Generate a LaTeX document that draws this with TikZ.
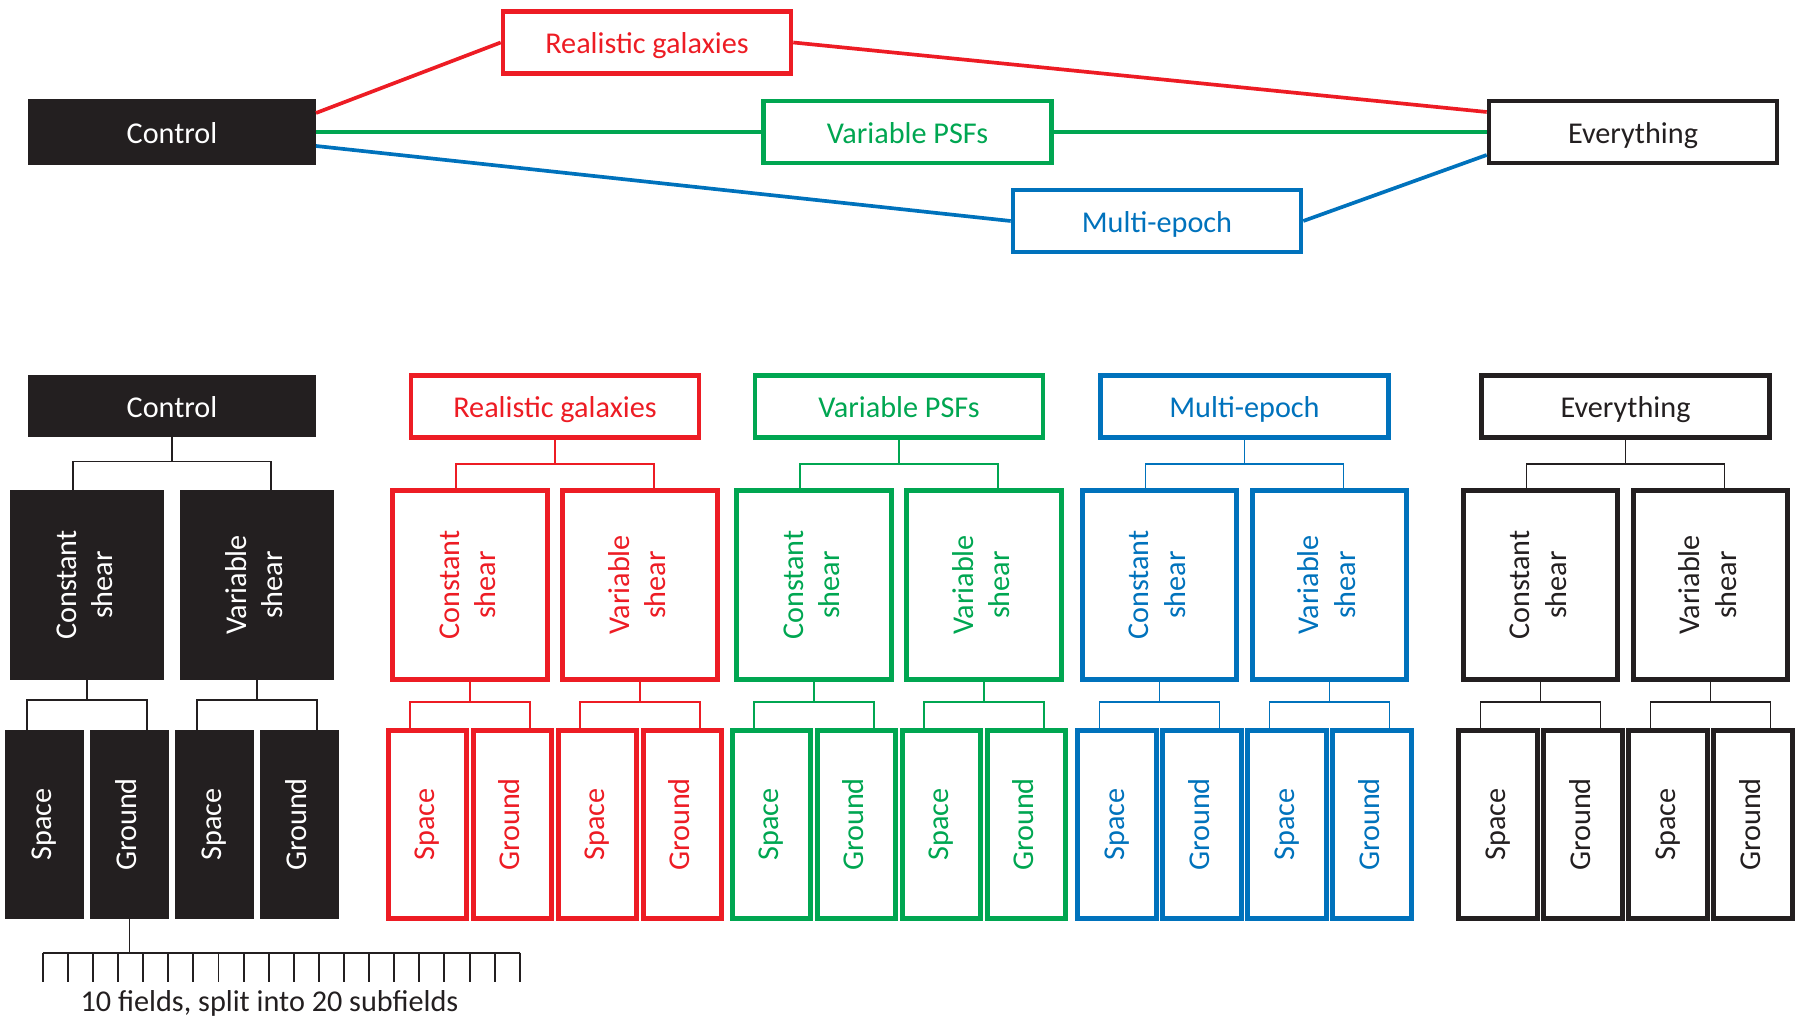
\documentclass[tikz,border=0pt]{standalone}
\usepackage{fontspec}
\setmainfont{Carlito}
\usetikzlibrary{arrows.meta}

\definecolor{inkblack}{HTML}{231F20}
\definecolor{galred}{HTML}{ED1C24}
\definecolor{psfgreen}{HTML}{00A651}
\definecolor{epochblue}{HTML}{0072BC}

% upright two-line text for the tall boxes
\newcommand{\vtext}[1]{\rotatebox{90}{\begin{tabular}{@{}c@{}}#1\end{tabular}}}

\tikzset{
	topbox/.style={draw, line width=1.3pt, inner sep=0pt, minimum width=2.88cm, minimum height=0.62cm, text height=0.64em, text depth=0pt},
	shearbox/.style={draw, line width=1.3pt, inner sep=0pt, minimum width=1.545cm, minimum height=1.895cm},
	leafbox/.style={draw, line width=1.3pt, inner sep=0pt, minimum width=0.785cm, minimum height=1.885cm},
	ctrl/.style={draw=none, line width=0pt, fill=inkblack, text=white},
	gal/.style={draw=galred, text=galred},
	psf/.style={draw=psfgreen, text=psfgreen},
	epo/.style={draw=epochblue, text=epochblue},
	evr/.style={draw=inkblack, text=inkblack},
	link/.style={line width=1.05pt},
	tie/.style={line width=0.45pt},
	comb/.style={line width=0.55pt, inkblack}
}

\begin{document}
\begin{tikzpicture}[>=Latex, font=\fontsize{8.6}{10.4}\selectfont]
	\useasboundingbox (0,0) rectangle (18,-10.17);
	
	%========================
	% Top: branches from Control to Everything
	%========================
	\node[topbox, ctrl, minimum height=0.66cm] (ctl) at (1.72,-1.32) {Control};
	\node[topbox, gal] (gal) at (6.47,-0.425) {Realistic galaxies};
	\node[topbox, psf] (psf) at (9.075,-1.32) {Variable PSFs};
	\node[topbox, epo] (epo) at (11.57,-2.21) {Multi-epoch};
	\node[topbox, evr] (evr) at (16.33,-1.32) {Everything};
	
	% one line per branch
	\draw[link, galred] ([yshift=1.9mm]ctl.east) -- (gal.west);
	\draw[link, galred] (gal.east) -- ([yshift=2mm]evr.west);
	\draw[link, psfgreen] (ctl.east) -- (psf.west);
	\draw[link, psfgreen] (psf.east) -- (evr.west);
	\draw[link, epochblue] ([yshift=-1.4mm]ctl.east) -- (epo.west);
	\draw[link, epochblue] (epo.east) -- ([yshift=-2.3mm]evr.west);
	
	%========================
	% Bottom: shear type, then space / ground, for each branch
	%========================
	\foreach \nm/\x/\sty/\col/\txt in {c/1.72/ctrl/inkblack/Control, r/5.55/gal/galred/Realistic galaxies, p/8.99/psf/psfgreen/Variable PSFs, m/12.445/epo/epochblue/Multi-epoch, e/16.255/evr/inkblack/Everything}{
		\begin{scope}[shift={(\x,0)}]
			\node[topbox, \sty] (\nm) at (0,-4.065) {\txt};
			\node[shearbox, \sty] (\nm-cs) at (-0.85,-5.85) {\vtext{Constant\\shear}};
			\node[shearbox, \sty] (\nm-vs) at (0.85,-5.85) {\vtext{Variable\\shear}};
			
			\draw[tie, \col] (\nm.south) -- ++(0,-0.24) coordinate (\nm-j);
			\draw[tie, \col] (\nm-j) -| ([xshift=-1.4mm]\nm-cs.north);
			\draw[tie, \col] (\nm-j) -| ([xshift=1.4mm]\nm-vs.north);
			
			\foreach \s in {cs,vs}{
				\node[leafbox, \sty] (\nm-\s-sp) at ([xshift=-4.25mm,yshift=-23.95mm]\nm-\s.center) {\vtext{Space}};
				\node[leafbox, \sty] (\nm-\s-gr) at ([xshift=4.25mm,yshift=-23.95mm]\nm-\s.center) {\vtext{Ground}};
				
				\draw[tie, \col] (\nm-\s.south) -- ++(0,-0.2) coordinate (\nm-\s-j);
				\draw[tie, \col] (\nm-\s-j) -| ([xshift=-1.75mm]\nm-\s-sp.north);
				\draw[tie, \col] (\nm-\s-j) -| ([xshift=1.75mm]\nm-\s-gr.north);
			}
		\end{scope}
	}
	
	%========================
	% Fields under one ground branch
	%========================
	\draw[comb] (c-cs-gr.south) -- (c-cs-gr.south |- 0,-9.527);
	\draw[comb] (0.427,-9.527) -- (5.20,-9.527);
	\foreach \i in {0,...,19}
		\draw[comb] ({0.427+0.2511*\i},-9.527) -- ++(0,-0.29);
	\node[anchor=base, text=inkblack] (fields) at (2.695,-10.117) {10 fields, split into 20 subfields};
	
\end{tikzpicture}
\end{document}
